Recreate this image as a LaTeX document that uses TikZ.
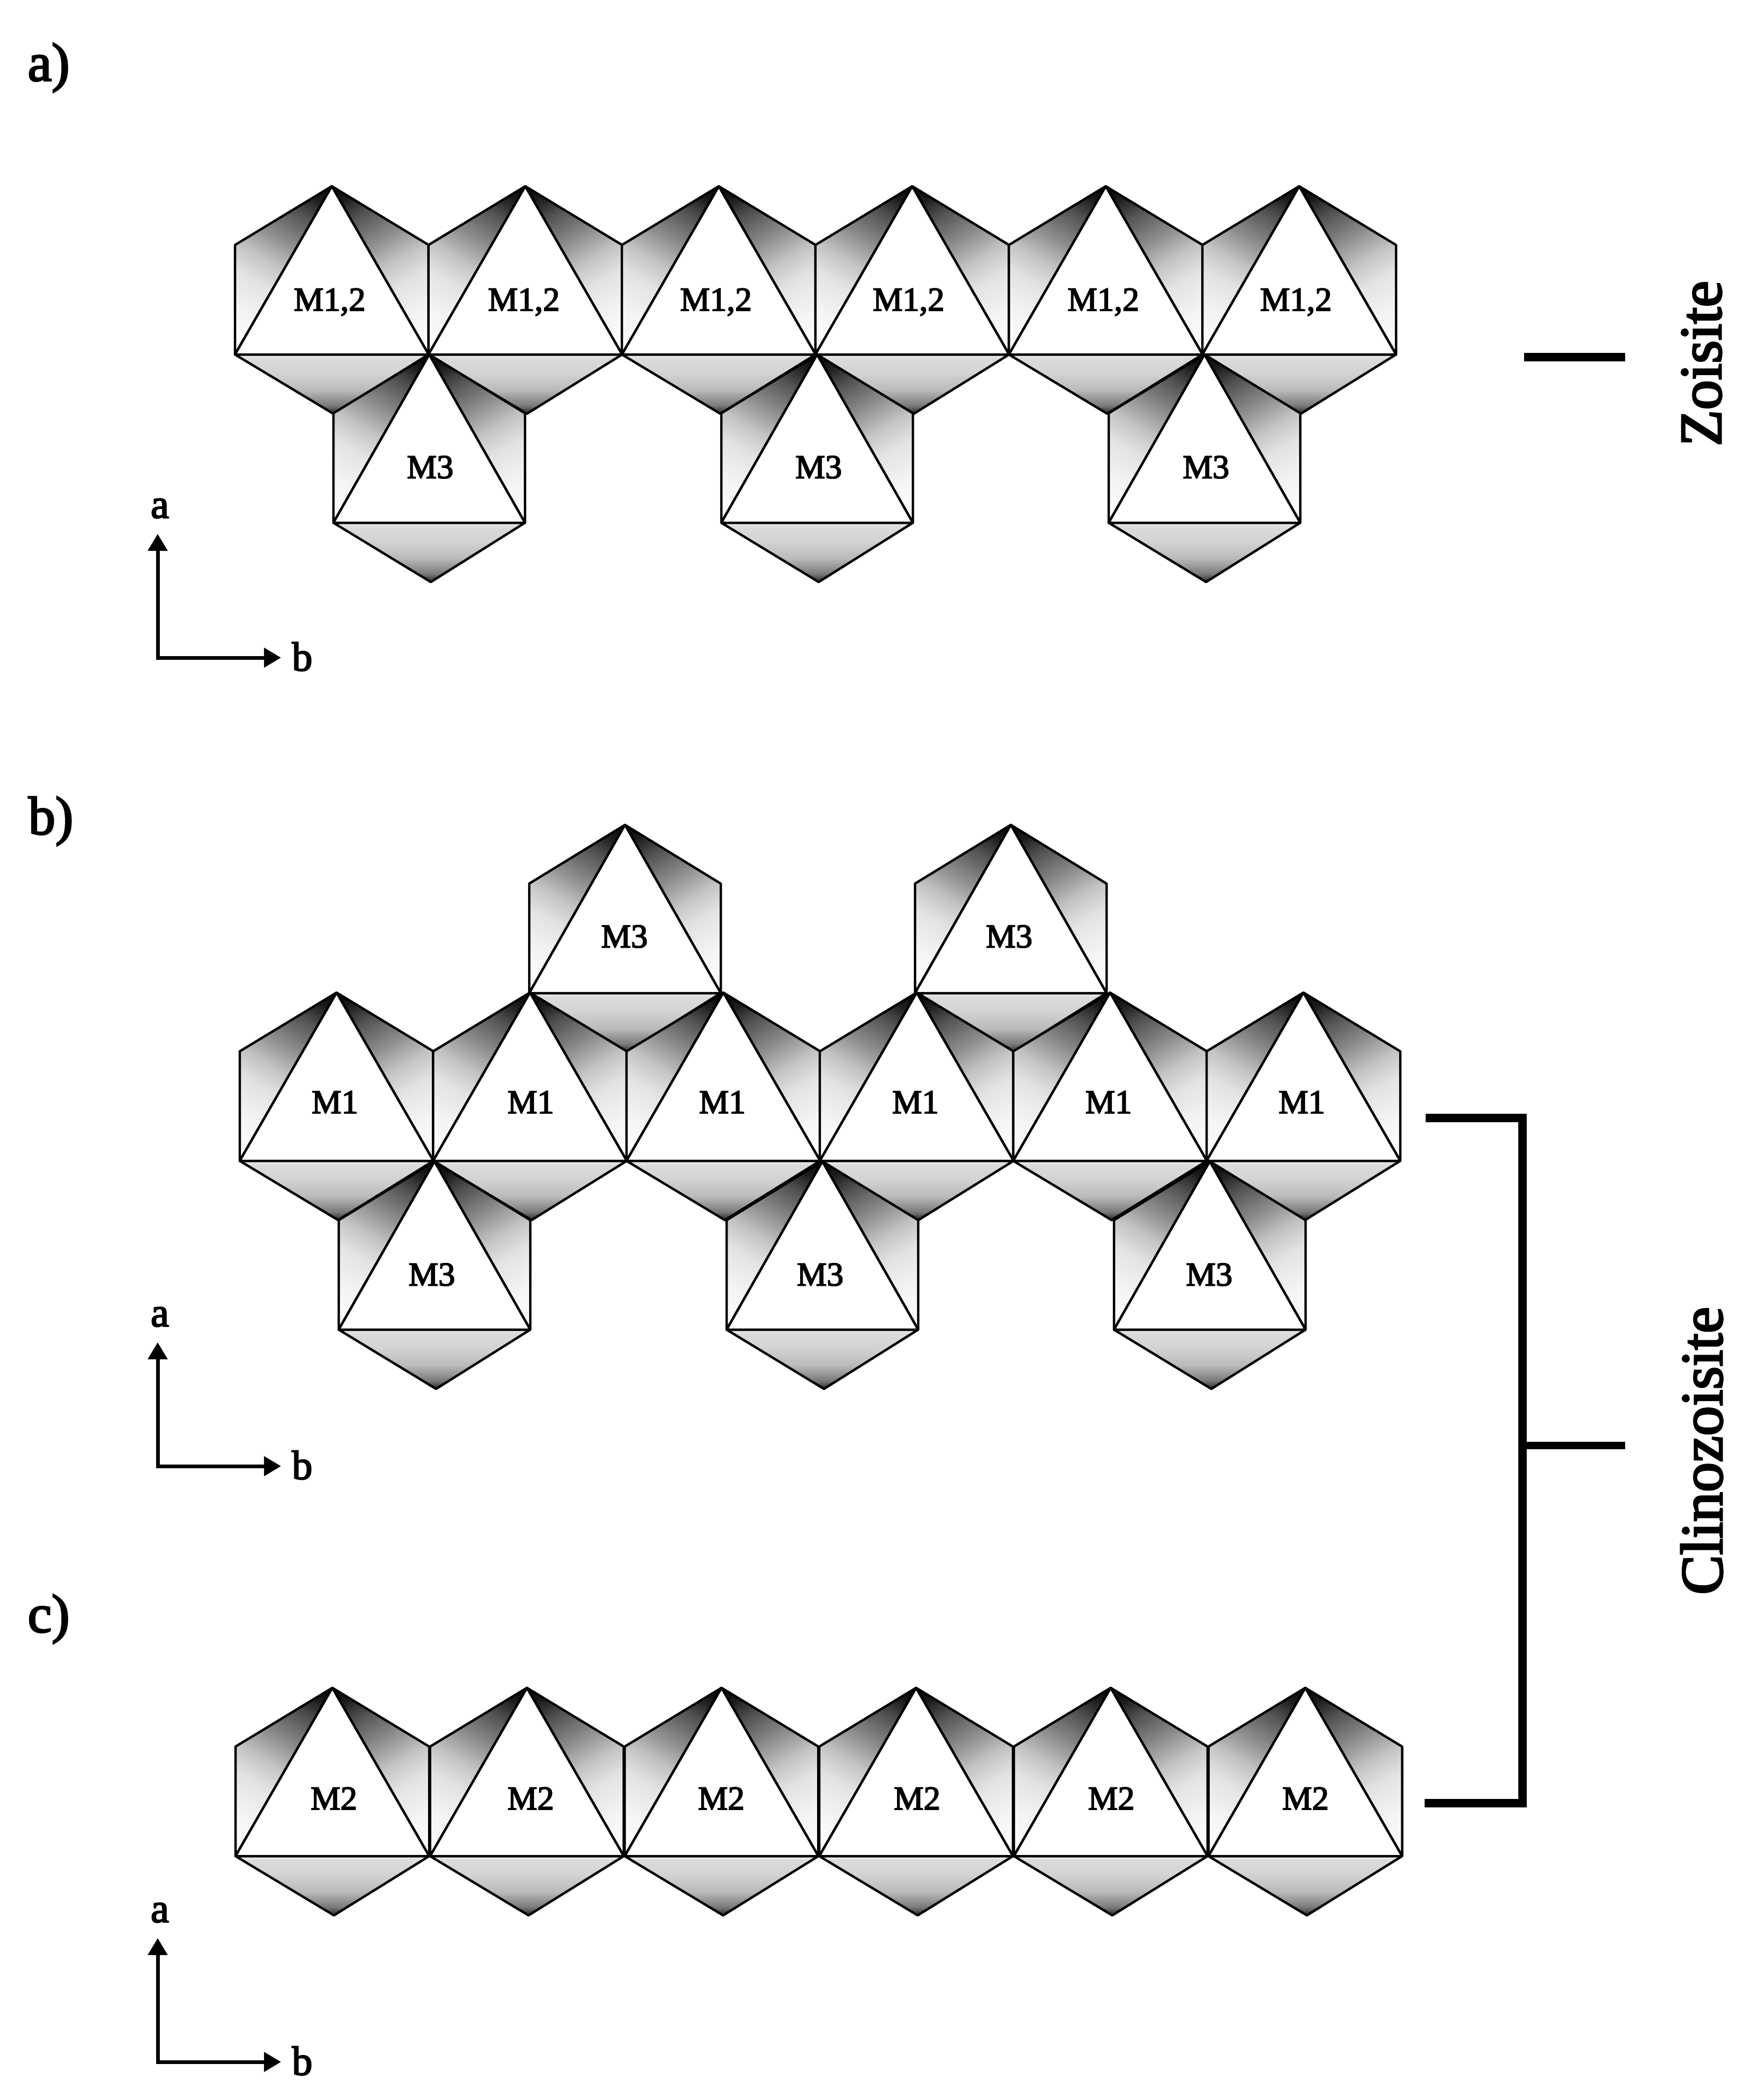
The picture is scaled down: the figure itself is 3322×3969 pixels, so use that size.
\documentclass[tikz,border=0pt]{standalone}
\usepackage{fontspec}
\setmainfont{Liberation Serif}
\newfontfamily\semibold[FakeBold=3]{Liberation Serif}
\usetikzlibrary{arrows.meta}
\pgfdeclareverticalshading{sidegrad}{100bp}{color(0bp)=(white); color(15.5bp)=(white); color(29.3bp)=(black!4); color(41.7bp)=(black!11); color(50bp)=(black!23); color(59.7bp)=(black!45); color(70.7bp)=(black!68); color(77.6bp)=(black!88); color(84.5bp)=(black); color(100bp)=(black)}
\pgfdeclareverticalshading{basegrad}{100bp}{color(0bp)=(black!85); color(25bp)=(black!85); color(32bp)=(black!52); color(45bp)=(black!27); color(60bp)=(black!17); color(72bp)=(black!14); color(75bp)=(black!3); color(100bp)=(white)}
\tikzset{
	edgeline/.style={line width=0.045cm, line join=round},
	site/.style={inner sep=0pt, font=\fontsize{18}{18}\semibold},
	axislabel/.style={inner sep=0pt, font=\fontsize{22}{22}\semibold},
	panel/.style={inner sep=0pt, font=\fontsize{29}{29}\semibold},
	mineral/.style={inner sep=0pt, rotate=90, anchor=base, font=\fontsize{32}{32}\semibold},
	axisline/.style={line width=0.07cm, {Triangle[length=0.32cm,width=0.36cm]}-{Triangle[length=0.32cm,width=0.36cm]}},
	bar/.style={line width=0.16cm}
}
% left end of the base, base height, width
\def\octahedron(#1,#2)#3{
	\shadedraw[edgeline, shading=sidegrad, shading angle=-30] ({#1},{#2}) -- ({#1},{#2-207}) -- ({#1+#3/2},{#2-318}) -- cycle;
	\shadedraw[edgeline, shading=sidegrad, shading angle=30] ({#1+#3},{#2}) -- ({#1+#3},{#2-207}) -- ({#1+#3/2},{#2-318}) -- cycle;
	\shadedraw[edgeline, shading=basegrad] ({#1},{#2}) -- ({#1+#3},{#2}) -- ({#1+#3/2+3},{#2+112}) -- cycle;
	\draw[edgeline, fill=white] ({#1},{#2}) -- ({#1+#3},{#2}) -- ({#1+#3/2},{#2-318}) -- cycle;
}
% corner of the axes
\def\axes(#1,#2)#3{
	\coordinate (#3o) at (#1,#2);
	\coordinate (#3a) at ({#1},{#2-234});
	\coordinate (#3b) at ({#1+233},{#2});
	\draw[axisline] (#3a) -- (#3o) -- (#3b);
	\node[axislabel] (#3alabel) at ({#1+4},{#2-282}) {a};
	\node[axislabel] (#3blabel) at ({#1+273},{#2-2}) {b};
}

\begin{document}
\begin{tikzpicture}[x=0.01cm, y=-0.01cm]
	\useasboundingbox (0,0) rectangle (3322,3969);
	
	%%%%% a %%%%%
	\node[panel] (panela) at (92,128) {a)};
	\foreach \i in {0,...,5}
		\octahedron({444+365.6*\i},670){366};
	\foreach \x in {630,1363,2095}
		\octahedron(\x,988){362};
	\foreach \x [count=\i] in {623,990,1353,1717,2085,2449}
		\node[site] (ma\i) at (\x,571) {M1,2};
	\foreach \x [count=\i] in {813,1547,2279}
		\node[site] (mt\i) at (\x,883) {M3};
	\axes(298,1243){ax}
	
	%%%%% b %%%%%
	\node[panel] (panelb) at (96,1552) {b)};
	\foreach \x in {1000,1729}
		\octahedron(\x,1877){362};
	\foreach \i in {0,...,5}
		\octahedron({453+365.4*\i},2194){366};
	\foreach \x in {640,1373,2105}
		\octahedron(\x,2513){362};
	\foreach \x [count=\i] in {1180,1907}
		\node[site] (bt\i) at (\x,1770) {M3};
	\foreach \x [count=\i] in {633,1003,1365,1730,2095,2460}
		\node[site] (bm\i) at (\x,2083) {M1};
	\foreach \x [count=\i] in {816,1550,2285}
		\node[site] (bl\i) at (\x,2409) {M3};
	\axes(298,2771){bx}
	
	%%%%% c %%%%%
	\node[panel] (panelc) at (92,3060) {c)};
	\foreach \i in {0,...,5}
		\octahedron({445+367.7*\i},3508){366};
	\foreach \x [count=\i] in {631,1003,1363,1733,2100,2467}
		\node[site] (cm\i) at (\x,3399) {M2};
	\axes(298,3897){cx}
	
	%%%%% minerals %%%%%
	\node[mineral] (zoisite) at (3252,687) {Zoisite};
	\node[mineral] (clino) at (3254,2742) {Clinozoisite};
	\coordinate (zl) at (2880,675);
	\coordinate (zr) at (3071,675);
	\draw[bar] (zl) -- (zr);
	\coordinate (tl) at (2694,2113);
	\coordinate (tr) at (2877,2113);
	\coordinate (br) at (2877,3408);
	\coordinate (bl) at (2692,3408);
	\coordinate (ml) at (2877,2732);
	\coordinate (mr) at (3071,2732);
	\draw[bar] (tl) -- (tr) -- (br) -- (bl);
	\draw[line width=0.14cm] (ml) -- (mr);
\end{tikzpicture}
\end{document}
